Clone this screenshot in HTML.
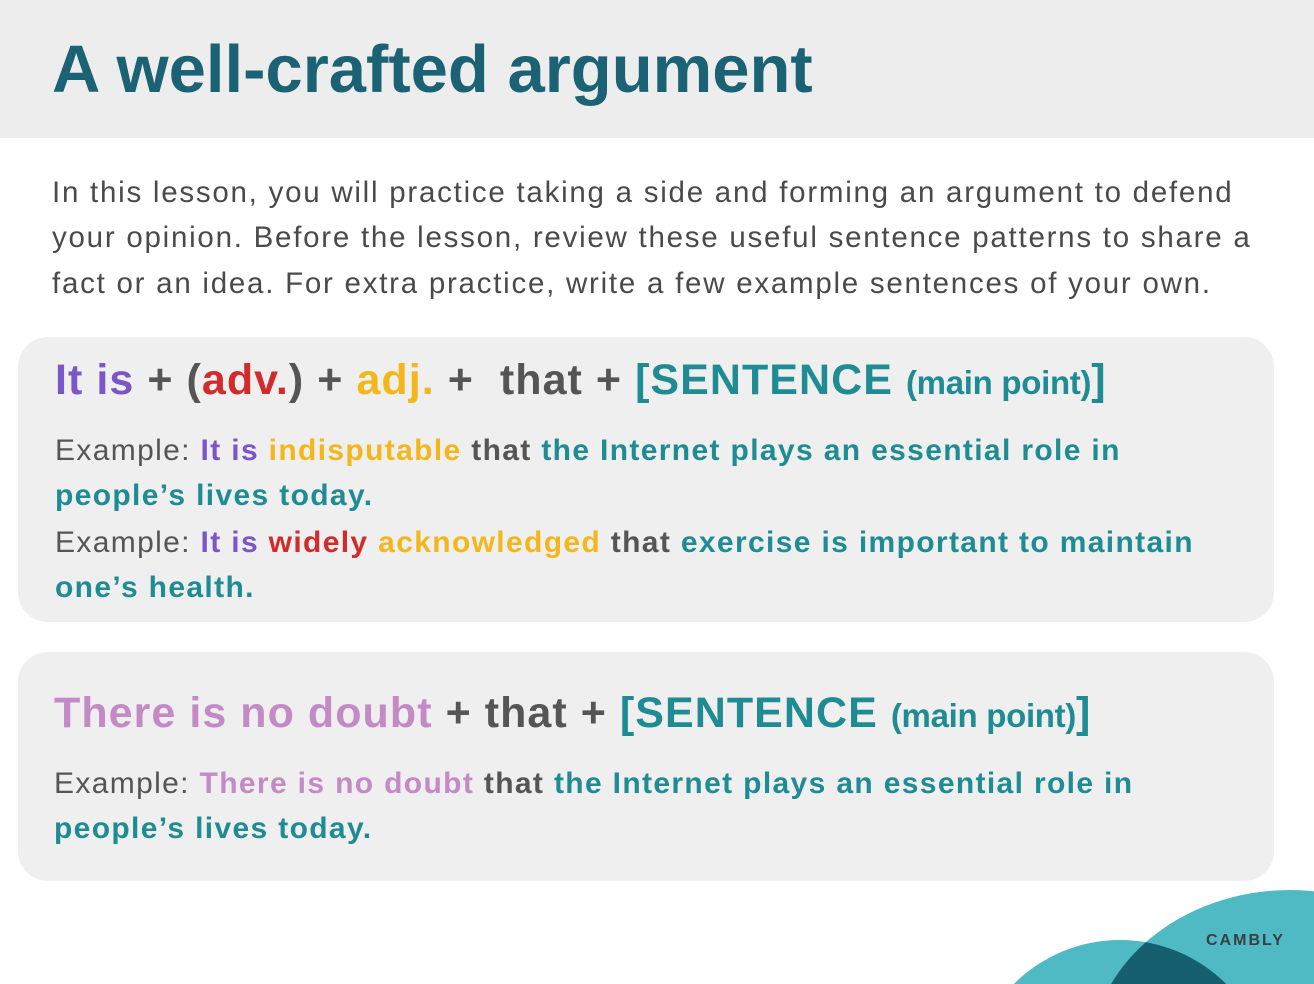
<!DOCTYPE html>
<html><head><meta charset="utf-8"><style>
*{margin:0;padding:0;box-sizing:border-box}
html,body{width:1314px;height:984px;overflow:hidden}
body{position:relative;background:#fff;font-family:"Liberation Sans",Arial,sans-serif}
.hdr{position:absolute;left:0;top:0;width:1314px;height:138px;background:#ededed}
.t{position:absolute;white-space:nowrap}
h1{position:absolute;left:52px;top:35px;font-size:67px;line-height:70px;font-weight:bold;color:#1a6274;letter-spacing:0px}
.p{left:52px;font-size:29.5px;line-height:46px;color:#4a4a4a;letter-spacing:1.75px}
.box{position:absolute;left:18px;width:1256px;background:#efefef;border-radius:30px}
.h{font-size:43px;line-height:50px;font-weight:bold;color:#555;letter-spacing:1.05px}
.e{font-size:30px;line-height:46px;font-weight:bold;letter-spacing:1.35px}
.ex{font-weight:normal;color:#555}
.pu{color:#7b57c6}.re{color:#d12b2b}.ye{color:#f4b71b}.gr{color:#555}.te{color:#1f8c94}.pi{color:#c38ac6}
.sm{font-size:33px;letter-spacing:-0.3px}
</style></head><body>
<div class="hdr"></div>
<h1>A well-crafted argument</h1>
<div class="t p" style="top:170px">In this lesson, you will practice taking a side and forming an argument to defend</div>
<div class="t p" style="top:215px">your opinion. Before the lesson, review these useful sentence patterns to share a</div>
<div class="t p" style="top:261px">fact or an idea. For extra practice, write a few example sentences of your own.</div>

<div class="box" style="top:337px;height:285px"></div>
<div class="box" style="top:652px;height:229px"></div>

<div class="t h" style="left:55px;top:355px"><span class="pu">It is</span> + (<span class="re">adv.</span>) + <span class="ye">adj.</span> + &nbsp;that + <span class="te">[SENTENCE <span class="sm">(main point)</span>]</span></div>
<div class="t e" style="left:55px;top:428px"><span class="ex">Example: </span><span class="pu">It is</span> <span class="ye">indisputable</span> <span class="gr">that</span> <span class="te">the Internet plays an essential role in</span></div>
<div class="t e te" style="left:55px;top:473px">people’s lives today.</div>
<div class="t e" style="left:55px;top:520px"><span class="ex">Example: </span><span class="pu">It is</span> <span class="re">widely</span> <span class="ye">acknowledged</span> <span class="gr">that</span> <span class="te">exercise is important to maintain</span></div>
<div class="t e te" style="left:55px;top:565px">one’s health.</div>

<div class="t h" style="left:54px;top:688px"><span class="pi">There is no doubt</span> + that + <span class="te">[SENTENCE <span class="sm">(main point)</span>]</span></div>
<div class="t e" style="left:54px;top:761px"><span class="ex">Example: </span><span class="pi">There is no doubt</span> <span class="gr">that</span> <span class="te">the Internet plays an essential role in</span></div>
<div class="t e te" style="left:54px;top:806px">people’s lives today.</div>

<svg style="position:absolute;left:0;top:0" width="1314" height="984">
<defs><clipPath id="c"><ellipse cx="1290" cy="1060" rx="200" ry="170"/></clipPath></defs>
<ellipse cx="1290" cy="1060" rx="200" ry="170" fill="#4fb9c4"/>
<ellipse cx="1120" cy="1090" rx="150" ry="150" fill="#4fb9c4"/>
<ellipse cx="1120" cy="1090" rx="150" ry="150" fill="#155f6e" clip-path="url(#c)"/>
<text x="1206" y="945" font-family="Liberation Sans,sans-serif" font-weight="bold" font-size="16" letter-spacing="2" fill="#3a3f46">CAMBLY</text>
</svg>
</body></html>
